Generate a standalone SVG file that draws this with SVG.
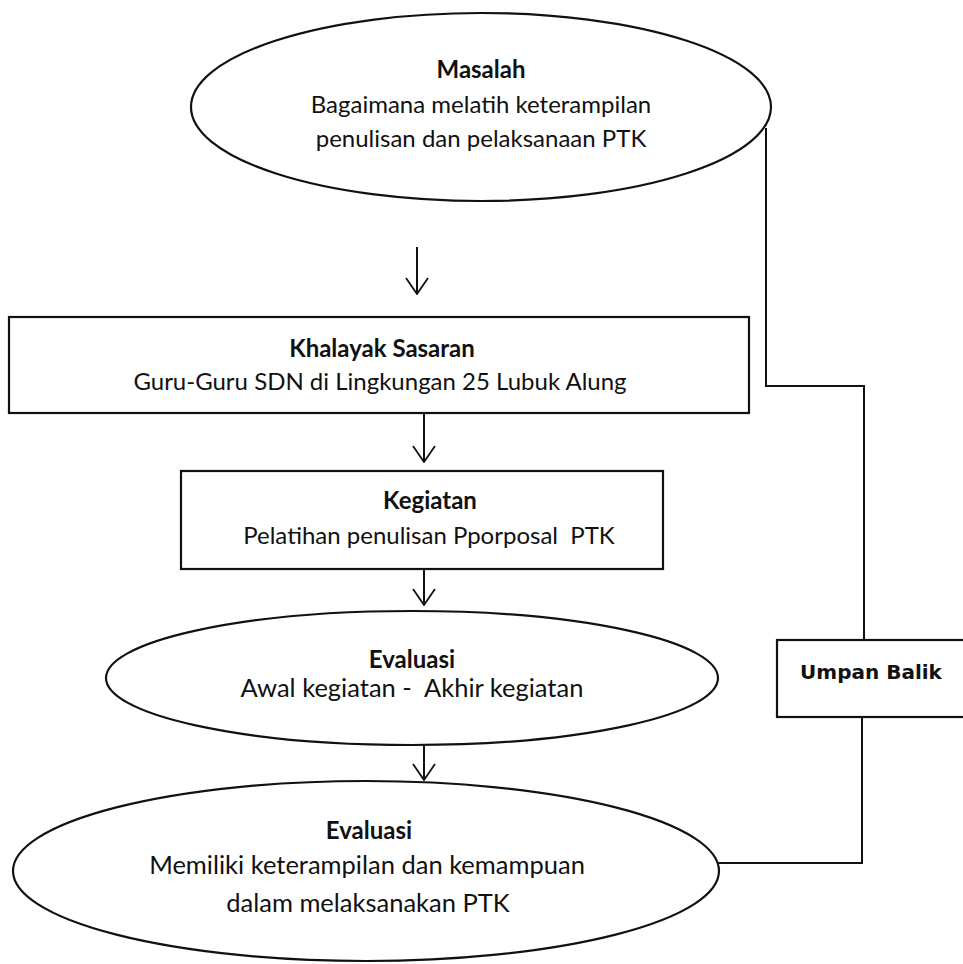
<svg xmlns="http://www.w3.org/2000/svg" width="963" height="964" viewBox="0 0 963 964">
<style>
.shape{fill:#fff;stroke:#111;stroke-width:2.2}
.conn{fill:none;stroke:#111;stroke-width:2}
.t{font-family:Lato,"Noto Sans",sans-serif;font-size:24px;fill:#111;text-anchor:middle}
.b{font-weight:bold}
.l{font-size:25.5px}
.ub{font-family:"DejaVu Sans",Verdana,sans-serif;font-size:20px;font-weight:bold;fill:#111;text-anchor:middle}
</style>
<defs>
<marker id="v" viewBox="0 0 18 24" refX="17" refY="12" markerWidth="18" markerHeight="24" markerUnits="userSpaceOnUse" orient="auto">
<path d="M1,1 L17,12 L1,23" fill="none" stroke="#111" stroke-width="1.8"/>
</marker>
</defs>
<rect width="963" height="964" fill="#fff"/>
<g id="connectors">
<line class="conn" x1="417" y1="247" x2="417" y2="294" marker-end="url(#v)"/>
<line class="conn" x1="424" y1="413" x2="424" y2="462" marker-end="url(#v)"/>
<line class="conn" x1="424" y1="569" x2="424" y2="605" marker-end="url(#v)"/>
<line class="conn" x1="424" y1="744" x2="424" y2="780" marker-end="url(#v)"/>
<polyline class="conn" points="766,128 766,386 864,386 864,640"/>
<polyline class="conn" points="862,717 862,863 718,863"/>
</g>
<g id="masalah">
<ellipse class="shape" cx="481" cy="107" rx="290" ry="94"/>
<text class="t b" x="481" y="78">Masalah</text>
<text class="t" x="481" y="113">Bagaimana melatih keterampilan</text>
<text class="t" x="481" y="147">penulisan dan pelaksanaan PTK</text>
</g>
<g id="khalayak">
<rect class="shape" x="9" y="317" width="740" height="96"/>
<text class="t b" x="382" y="357">Khalayak Sasaran</text>
<text class="t" x="380" y="390">Guru-Guru SDN di Lingkungan 25 Lubuk Alung</text>
</g>
<g id="kegiatan">
<rect class="shape" x="181" y="471" width="482" height="98"/>
<text class="t b" x="430" y="509">Kegiatan</text>
<text class="t" x="429" y="544" xml:space="preserve">Pelatihan penulisan Pporposal  PTK</text>
</g>
<g id="evaluasi1">
<ellipse class="shape" cx="412" cy="678" rx="306" ry="67"/>
<text class="t b" x="412" y="668">Evaluasi</text>
<text class="t l" x="412" y="697" xml:space="preserve">Awal kegiatan -  Akhir kegiatan</text>
</g>
<g id="evaluasi2">
<ellipse class="shape" cx="366" cy="871" rx="353" ry="90"/>
<text class="t b" x="369" y="839">Evaluasi</text>
<text class="t l" x="367" y="874">Memiliki keterampilan dan kemampuan</text>
<text class="t l" x="368" y="912">dalam melaksanakan PTK</text>
</g>
<g id="umpan-balik">
<rect class="shape" x="777" y="640" width="190" height="77"/>
<text class="ub" x="871" y="679">Umpan Balik</text>
</g>
</svg>
